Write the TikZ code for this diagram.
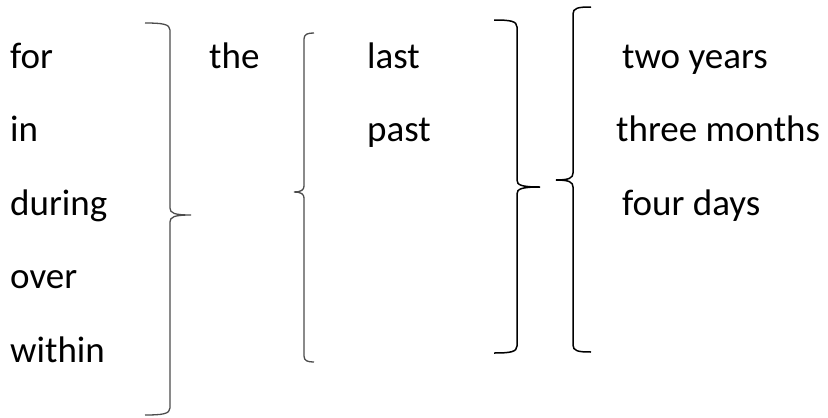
\documentclass[tikz,border=0pt]{standalone}
\usepackage{fontspec}
\setmainfont{Carlito}
\begin{document}
\begin{tikzpicture}[x=1pt,y=-1pt,
  word/.style={anchor=base west,inner sep=0pt,font=\fontsize{37}{44}\selectfont},
  graybrace/.style={draw=black!70,line width=1.3pt},
  blackbrace/.style={draw=black,line width=1.5pt}]
\useasboundingbox (0,0) rectangle (828,418);
% words
\node[word] (for) at (10,68) {for};
\node[word] (in) at (10,141.5) {in};
\node[word] (during) at (10,215) {during};
\node[word] (over) at (10,288.5) {over};
\node[word] (within) at (10,362) {within};
\node[word] (the) at (209,68) {the};
\node[word] (last) at (367,68) {last};
\node[word] (past) at (367,141.5) {past};
\node[word] (two) at (622,68) {two years};
\node[word] (three) at (616,141.5) {three months};
\node[word] (four) at (622,215) {four days};
% brace 1 (right, gray)
\draw[graybrace] (145,23) .. controls (162,23) and (170,24) .. (170,30)
  -- (170,208) .. controls (170,213) and (174,215) .. (191,215)
  .. controls (174,215) and (170,217) .. (170,222)
  -- (170,408) .. controls (170,414) and (162,415) .. (145,415);
% brace 2 (left, gray)
\draw[graybrace] (314,33) .. controls (308,33) and (304,34) .. (304,39)
  -- (304,186) .. controls (304,190) and (301,192) .. (294,192)
  .. controls (301,192) and (304,194) .. (304,198)
  -- (304,356) .. controls (304,361) and (308,362) .. (314,362);
% brace 3 (right, black)
\draw[blackbrace] (494,20) .. controls (510,20) and (517,21) .. (517,27)
  -- (517,180) .. controls (517,185) and (521,187) .. (540,187)
  .. controls (521,187) and (517,189) .. (517,194)
  -- (517,346) .. controls (517,352) and (510,353) .. (494,353);
% brace 4 (left, black)
\draw[blackbrace] (591,7) .. controls (578,7) and (573,8) .. (573,14)
  -- (573,173) .. controls (573,178) and (569,180) .. (556,180)
  .. controls (569,180) and (573,182) .. (573,187)
  -- (573,345) .. controls (573,351) and (578,352) .. (591,352);
\end{tikzpicture}
\end{document}
